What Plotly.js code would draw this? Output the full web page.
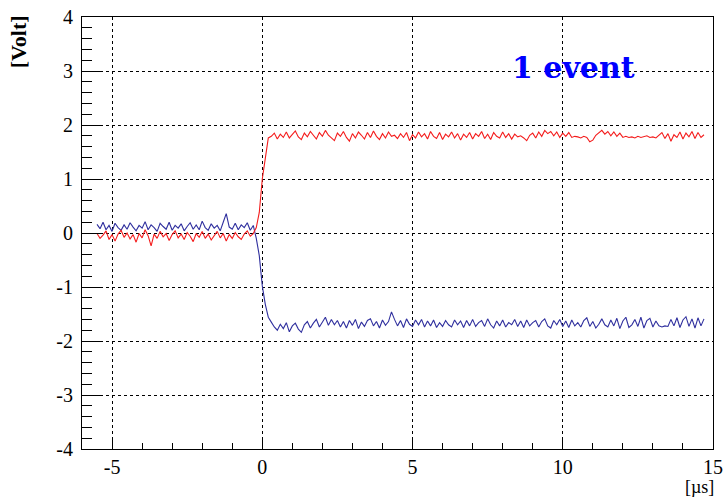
<!DOCTYPE html>
<html>
<head>
<meta charset="utf-8">
<script src="https://cdn.plot.ly/plotly-3.0.1.min.js"></script>
<style>
  html, body { margin: 0; padding: 0; background: #ffffff; }
  #plot { width: 727px; height: 499px; }
</style>
</head>
<body>
<div id="plot"></div>
<script>
// Digitiser sampling: first sample time and spacing, in microseconds
const t0 = -5.5;
const dt = 0.1;

// Axis tick positions and their printed labels (plain hyphen minus)
const xTickVals = [-5, 0, 5, 10, 15];
const xTickText = ['-5', '0', '5', '10', '15'];
const yTickVals = [-4, -3, -2, -1, 0, 1, 2, 3, 4];
const yTickText = ['-4', '-3', '-2', '-1', '0', '1', '2', '3', '4'];

// Positive channel (red): baseline, leading edge, plateau
const redBefore = [
  -0.01,-0.10,-0.04,0.04,-0.12,-0.03,-0.15,-0.02,0.05,-0.08,
  0.00,-0.11,-0.03,-0.17,-0.01,-0.09,0.06,-0.05,-0.24,-0.02,
  -0.10,0.03,-0.07,-0.01,-0.14,-0.03,0.04,-0.09,-0.02,-0.12,
  0.01,-0.06,-0.16,-0.01,-0.08,0.03,-0.10,-0.02,-0.13,-0.05,
  0.03,-0.09,-0.01,-0.15,-0.03,-0.10,0.01,-0.07,-0.12,-0.02,
  0.04,-0.06,-0.01
];
const redEdge = [0.10, 0.38, 1.00, 1.42, 1.76];
const redAfter = [
  1.79,1.85,1.74,1.83,1.77,1.87,1.76,1.82,1.89,1.78,
  1.73,1.85,1.78,1.88,1.80,1.74,1.86,1.79,1.90,1.81,
  1.76,1.71,1.85,1.79,1.88,1.77,1.70,1.84,1.76,1.87,
  1.81,1.74,1.86,1.77,1.89,1.79,1.73,1.84,1.76,1.87,
  1.79,1.81,1.75,1.84,1.77,1.86,1.71,1.82,1.76,1.87,
  1.78,1.84,1.74,1.88,1.79,1.75,1.86,1.73,1.83,1.78,
  1.87,1.76,1.84,1.72,1.83,1.77,1.86,1.74,1.84,1.79,
  1.88,1.75,1.83,1.73,1.86,1.79,1.76,1.87,1.77,1.84,
  1.74,1.83,1.78,1.80,1.76,1.71,1.81,1.85,1.76,1.87,
  1.79,1.90,1.84,1.88,1.80,1.87,1.77,1.85,1.79,1.86,
  1.77,1.79,1.78,1.76,1.79,1.77,1.69,1.72,1.81,1.85,
  1.90,1.83,1.88,1.80,1.87,1.79,1.85,1.77,1.79,1.77,
  1.78,1.76,1.79,1.77,1.78,1.80,1.77,1.78,1.76,1.81,
  1.86,1.75,1.84,1.70,1.82,1.77,1.87,1.74,1.85,1.78,
  1.88,1.75,1.86,1.77,1.82
];

// Negative channel (blue): baseline, falling edge, plateau
const blueBefore = [
  0.16,0.08,0.20,0.06,0.14,0.03,0.18,0.10,0.05,0.15,
  0.07,0.19,0.11,0.04,0.14,0.09,0.21,0.06,0.15,0.10,
  0.03,0.18,0.12,0.07,0.20,0.05,0.14,0.09,0.17,0.04,
  0.12,0.19,0.07,0.15,0.06,0.22,0.10,0.05,0.17,0.09,
  0.14,0.04,0.20,0.36,0.11,0.07,0.18,0.06,0.15,0.10,
  0.19,0.05,0.14
];
const blueEdge = [-0.10, -0.42, -0.98, -1.32, -1.56];
const blueAfter = [
  -1.65,-1.74,-1.80,-1.69,-1.77,-1.66,-1.83,-1.72,-1.67,-1.78,
  -1.84,-1.70,-1.64,-1.76,-1.67,-1.60,-1.74,-1.64,-1.56,-1.71,
  -1.60,-1.70,-1.62,-1.74,-1.64,-1.76,-1.62,-1.71,-1.60,-1.77,
  -1.65,-1.73,-1.62,-1.59,-1.72,-1.64,-1.76,-1.61,-1.71,-1.64,
  -1.46,-1.60,-1.72,-1.62,-1.75,-1.59,-1.69,-1.73,-1.61,-1.70,
  -1.60,-1.74,-1.63,-1.72,-1.61,-1.75,-1.66,-1.73,-1.62,-1.70,
  -1.74,-1.61,-1.70,-1.63,-1.75,-1.62,-1.72,-1.60,-1.73,-1.66,
  -1.62,-1.73,-1.59,-1.70,-1.76,-1.63,-1.72,-1.61,-1.74,-1.66,
  -1.70,-1.60,-1.73,-1.63,-1.75,-1.61,-1.72,-1.66,-1.62,-1.74,
  -1.64,-1.59,-1.72,-1.76,-1.62,-1.70,-1.60,-1.73,-1.63,-1.75,
  -1.61,-1.72,-1.66,-1.74,-1.62,-1.57,-1.73,-1.64,-1.76,-1.69,
  -1.59,-1.70,-1.74,-1.61,-1.72,-1.58,-1.77,-1.63,-1.56,-1.75,
  -1.70,-1.60,-1.73,-1.56,-1.76,-1.62,-1.58,-1.74,-1.63,-1.72,
  -1.74,-1.72,-1.73,-1.60,-1.72,-1.57,-1.75,-1.61,-1.55,-1.73,
  -1.59,-1.76,-1.57,-1.72,-1.59
];

const redY = redBefore.concat(redEdge, redAfter);
const blueY = blueBefore.concat(blueEdge, blueAfter);

const serif = 'Liberation Serif, Times New Roman, serif';

const traces = [
  {
    type: 'scatter', mode: 'lines',
    x0: t0, dx: dt, y: blueY,
    line: { color: '#2f2f9e', width: 1.1 },
    hoverinfo: 'skip'
  },
  {
    type: 'scatter', mode: 'lines',
    x0: t0, dx: dt, y: redY,
    line: { color: '#f41c1c', width: 1.1 },
    hoverinfo: 'skip'
  }
];

const layout = {
  width: 727, height: 499,
  margin: { l: 82, r: 14, t: 17, b: 50 },
  paper_bgcolor: '#ffffff',
  plot_bgcolor: '#ffffff',
  showlegend: false,
  font: { family: serif, size: 20, color: '#000000' },
  xaxis: {
    range: [-6, 15], autorange: false,
    tickmode: 'array', tickvals: xTickVals, ticktext: xTickText,
    ticks: 'inside', ticklen: 12, tickwidth: 1, tickcolor: '#000000',
    minor: { tickmode: 'linear', tick0: 0, dtick: 1, ticks: 'inside', ticklen: 6, tickwidth: 1, tickcolor: '#000000', showgrid: false },
    showline: true, linecolor: '#000000', linewidth: 1, mirror: true,
    showgrid: true, gridcolor: '#000000', griddash: 'dot', gridwidth: 1,
    zeroline: false,
    tickfont: { family: serif, size: 20, color: '#000000' },
    ticklabelstandoff: 0
  },
  yaxis: {
    range: [-4, 4], autorange: false,
    tickmode: 'array', tickvals: yTickVals, ticktext: yTickText,
    ticks: 'inside', ticklen: 19, tickwidth: 1, tickcolor: '#000000',
    minor: { tickmode: 'linear', tick0: 0, dtick: 0.2, ticks: 'inside', ticklen: 10, tickwidth: 1, tickcolor: '#000000', showgrid: false },
    showline: true, linecolor: '#000000', linewidth: 1, mirror: true,
    showgrid: true, gridcolor: '#000000', griddash: 'dot', gridwidth: 1,
    zeroline: false,
    tickfont: { family: serif, size: 20, color: '#000000' },
    ticklabelstandoff: 4
  },
  annotations: [
    {
      text: '<b>[Volt]</b>', xref: 'paper', yref: 'paper',
      x: -0.101, y: 0.942, textangle: -90,
      xanchor: 'center', yanchor: 'middle', showarrow: false,
      font: { family: serif, size: 22, color: '#000000' }
    },
    {
      text: '[\u00b5s]', xref: 'paper', yref: 'paper',
      x: 0.979, y: -0.1125,
      xanchor: 'center', yanchor: 'bottom', showarrow: false,
      borderpad: 0,
      font: { family: serif, size: 18, color: '#000000' }
    },
    {
      text: '<b>1 event</b>', xref: 'x', yref: 'y',
      x: 10.37, y: 3.06,
      xanchor: 'center', yanchor: 'middle', showarrow: false,
      font: { family: 'DejaVu Serif, serif', size: 30, color: '#0000ff' }
    }
  ]
};

Plotly.newPlot('plot', traces, layout, { displayModeBar: false, staticPlot: true });
</script>
</body>
</html>
